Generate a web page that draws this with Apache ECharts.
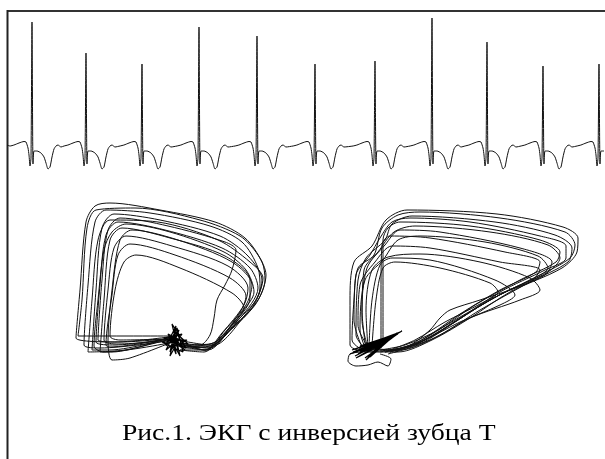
<!DOCTYPE html>
<html>
<head>
<meta charset="utf-8">
<script src="https://cdn.jsdelivr.net/npm/echarts@6/dist/echarts.min.js"></script>
<style>
  html, body { margin: 0; padding: 0; background: #fff; }
  #chart { width: 605px; height: 459px; }
</style>
</head>
<body>
<div id="chart"></div>
<script>
// ЭКГ: положения и высоты зубцов R (в единицах рисунка, ось Y вниз)
var rPeakX = [32, 86, 142, 199, 257, 315, 375, 432, 487, 543, 599];
var rPeakY = [22, 53, 64, 27, 36, 64, 61, 18, 42, 66, 64];
// форма комплекса: [смещение от R, уровень]
var afterR = [[1, 164], [2, 151], [5, 151], [9, 153], [12, 157], [14, 163], [16, 169], [18, 167], [20, 157], [22, 149], [24, 146], [26, 145], [29, 147]];
var beforeR = [[-22, 146], [-18, 145], [-13, 143], [-8, 141.5], [-6, 142], [-4, 148], [-3, 155], [-2, 166], [-1, 158]];

// фазовый портрет слева
var leftLoops = [
  [[175,338],[120,342],[76,338],[80,290],[86,222],[95,206],[110,203],[160,210],[215,222],[245,238],[262,262],[265,280],[255,305],[230,330],[208,350],[180,350]],
  [[174,340],[100,348],[84,345],[88,285],[95,222],[106,210],[150,213],[210,226],[242,242],[258,268],[260,288],[245,315],[212,346],[178,346]],
  [[176,336],[110,350],[92,350],[96,290],[102,228],[114,214],[160,220],[220,236],[248,256],[262,280],[252,308],[225,335],[205,350],[182,342]],
  [[172,338],[115,345],[96,342],[100,285],[106,235],[118,222],[165,230],[222,248],[250,268],[258,288],[240,318],[210,345],[178,340]],
  [[178,334],[112,352],[100,352],[104,300],[110,240],[122,228],[170,238],[225,256],[250,280],[250,298],[232,325],[208,348],[180,345]],
  [[170,340],[118,344],[104,340],[108,290],[114,248],[126,236],[172,246],[228,266],[248,288],[244,305],[222,333],[205,350],[176,342]],
  [[175,337],[110,347],[106,345],[112,295],[118,255],[130,244],[175,255],[230,278],[246,296],[240,312],[215,342],[180,347]],
  [[173,339],[120,340],[110,336],[115,290],[124,262],[136,255],[180,268],[232,293],[244,308],[232,325],[210,348],[178,344]],
  [[176,336],[115,342],[98,340],[102,280],[108,230],[120,218],[168,226],[225,242],[236,250],[232,270],[225,285],[217,300],[214,318],[210,335],[200,345],[180,343]],
  [[174,338],[125,350],[88,352],[92,300],[98,240],[110,220],[158,222],[218,240],[250,262],[263,278],[256,300],[236,322],[214,345],[182,348]],
  [[172,336],[78,336],[82,300],[87,228],[96,210],[135,208],[200,220],[240,236],[258,255],[266,275],[258,300],[238,322],[210,344],[180,345]],
  [[177,340],[130,358],[112,360],[108,340],[112,290],[120,240],[132,230],[178,240],[232,262],[252,285],[246,305],[225,330],[206,350],[178,346]],
  [[174,342],[104,352],[94,346],[98,300],[104,250],[112,232],[126,224],[170,232],[224,252],[246,270],[254,292],[242,312],[220,338],[204,352],[180,350]]
];
var leftKnot = [
  [166,346],[176,326],[170,352],[182,334],[164,338],[186,348],[174,330],[180,356],[168,334],[184,342],
  [172,324],[178,350],[162,342],[188,344],[175,332],[170,356],[180,338],[166,350],[177,328],[183,352],
  [165,344],[179,330],[172,348],[187,340],[168,340],[181,346],[174,336],[176,354],[170,338],[185,350]
];

// фазовый портрет справа
var rightLoops = [
  [[365,352],[350,345],[350,300],[354,262],[372,246],[386,220],[407,210],[497,214],[563,227],[578,238],[577,252],[562,268],[510,292],[470,318],[432,340],[398,352],[365,352]],
  [[367,350],[356,335],[358,280],[366,258],[385,240],[392,224],[412,216],[495,222],[555,235],[572,248],[568,262],[530,282],[480,310],[440,335],[400,350],[368,350]],
  [[368,348],[362,320],[364,270],[378,252],[394,232],[415,226],[490,232],[548,245],[560,258],[548,272],[505,292],[460,318],[425,340],[395,350],[368,348]],
  [[366,350],[360,330],[365,280],[383,260],[398,240],[420,236],[485,242],[538,256],[548,268],[530,280],[490,300],[450,325],[415,345],[385,352]],
  [[368,348],[366,310],[372,270],[388,257],[420,254],[480,262],[530,278],[540,290],[520,300],[470,318],[430,340],[390,352]],
  [[369,347],[372,300],[380,265],[392,258],[430,260],[495,280],[515,295],[500,305],[460,322],[420,342],[385,352]],
  [[383,345],[383,300],[383,240],[388,228],[400,222],[470,226],[540,240],[560,252],[556,262],[520,280],[475,305],[438,330],[405,345],[380,350]],
  [[366,352],[352,340],[354,300],[358,268],[374,255],[382,228],[398,215],[420,212],[500,218],[565,232],[575,245],[570,258],[540,275],[490,300],[445,328],[410,346],[370,352]],
  [[370,350],[358,325],[360,285],[375,262],[392,246],[430,248],[500,262],[540,270],[530,282],[480,300],[450,310],[440,318],[430,330],[410,345],[380,352]],
  [[366,350],[362,310],[367,268],[385,245],[400,230],[440,232],[520,248],[552,262],[545,275],[505,292],[455,320],[418,342],[390,352]],
  [[364,352],[354,320],[356,275],[370,255],[380,238],[392,222],[410,218],[470,222],[540,236],[566,246],[566,258],[545,270],[500,292],[455,322],[420,344],[388,354]],
  [[372,346],[376,300],[383,268],[395,262],[440,268],[490,283],[498,292],[480,304],[445,322],[415,340],[390,350]],
  [[381,348],[381,290],[382,245],[390,236],[430,238],[505,252],[540,262],[536,272],[500,290],[460,314],[425,338],[395,352]],
  [[362,352],[350,354],[348,361],[356,366],[368,365],[378,362],[388,366],[391,359],[380,354]]
];
var rightKnot = [
  [355,356],[398,334],[360,352],[400,332],[352,350],[392,338],[365,358],[396,335],[358,348],[388,340],
  [368,356],[385,342],[350,354],[394,336],[362,352],[384,344],[356,358],[402,331],[364,350],[390,337],
  [353,352],[380,343],[370,357],[397,333],[358,354],[386,338],[366,360],[393,335],[360,346],[376,342]
];

var caption = 'Рис.1. ЭКГ с инверсией зубца Т';

(function () {
    var myChart = echarts.init(document.getElementById('chart'));

    // собираем кривую ЭКГ из комплексов
    var ecg = [[7, 145]];
    for (var i = 0; i < rPeakX.length; i++) {
        var rx = rPeakX[i];
        beforeR.forEach(function (p) {
            if (rx + p[0] > 7) ecg.push([rx + p[0], p[1]]);
        });
        ecg.push([rx, rPeakY[i]]);
        afterR.forEach(function (p) {
            if (rx + p[0] <= 604) ecg.push([rx + p[0], p[1]]);
        });
    }

    var lineStyle = { color: '#111', width: 1 };
    var series = [{
        type: 'line',
        data: ecg,
        smooth: 0.2,
        showSymbol: false,
        lineStyle: { color: '#111', width: 1 },
        silent: true
    }];
    leftLoops.concat(rightLoops).forEach(function (loop) {
        series.push({
            type: 'line',
            data: loop,
            smooth: 0.3,
            showSymbol: false,
            lineStyle: lineStyle,
            silent: true
        });
    });
    [leftKnot, rightKnot].forEach(function (knot) {
        series.push({
            type: 'line',
            data: knot,
            showSymbol: false,
            lineStyle: { color: '#000', width: 1.2 },
            silent: true
        });
    });

    var option = {
        animation: false,
        backgroundColor: '#fff',
        grid: { left: 0, right: 0, top: 0, bottom: 0 },
        xAxis: { type: 'value', min: 0, max: 605, show: false },
        yAxis: { type: 'value', min: 0, max: 459, inverse: true, show: false },
        graphic: [
            { type: 'line', shape: { x1: 7, y1: 11, x2: 605, y2: 11 }, style: { stroke: '#333', lineWidth: 2 } },
            { type: 'line', shape: { x1: 7.5, y1: 10, x2: 7.5, y2: 459 }, style: { stroke: '#222', lineWidth: 2 } },
            {
                type: 'text',
                x: 122,
                y: 422,
                scaleX: 1.15,
                style: {
                    text: caption,
                    fontFamily: 'Liberation Serif',
                    fontSize: 24,
                    fill: '#000',
                    verticalAlign: 'top'
                }
            }
        ],
        series: series
    };

    myChart.setOption(option);
    window.addEventListener('resize', function () {
        myChart.resize();
    });
})();
</script>
</body>
</html>
